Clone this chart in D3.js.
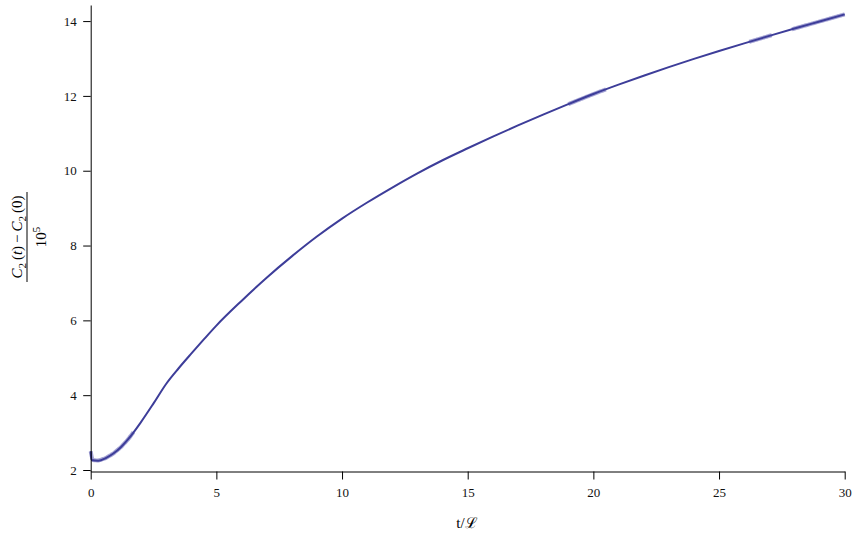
<!DOCTYPE html>
<html>
<head>
<meta charset="utf-8">
<script src="https://cdn.jsdelivr.net/npm/d3@7"></script>
<style>
  body { margin: 0; background: #fff; }
  svg { display: block; }
  .tick text { font-family: "Liberation Serif", "Times New Roman", serif; font-size: 13px; fill: #111; }
</style>
</head>
<body>
<div id="chart"></div>
<script>
// time in units of the Lipschitz time
const tValues = [0, 0.03, 0.3, 0.6, 0.9, 1.2, 1.5, 2.0, 2.5, 3.0, 3.5, 4.0, 4.5, 5, 6, 7, 8, 9, 10, 11, 12, 13, 14, 15, 16, 17, 18, 19, 20, 21, 22, 23, 24, 25, 26, 27, 28, 29, 30];
// (C2(t) - C2(0)) / 10^5
const cValues = [2.5, 2.27, 2.25, 2.32, 2.44, 2.61, 2.83, 3.28, 3.78, 4.30, 4.72, 5.11, 5.49, 5.86, 6.52, 7.14, 7.71, 8.24, 8.72, 9.15, 9.55, 9.93, 10.28, 10.60, 10.91, 11.21, 11.50, 11.78, 12.05, 12.30, 12.54, 12.77, 12.99, 13.20, 13.405, 13.605, 13.80, 13.99, 14.18];
// stretches where the curve is visibly noisy
const noisyRanges = [[0, 1.7], [19.0, 20.5], [26.2, 27.1], [27.9, 30]];
const xTicks = [0, 5, 10, 15, 20, 25, 30];
const yTicks = [2, 4, 6, 8, 10, 12, 14];

const width = 856;
const height = 537;

const svg = d3.select("#chart")
  .append("svg")
  .attr("width", width)
  .attr("height", height);

const x = d3.scaleLinear().domain([0, 30]).range([90.7, 844.7]);
const y = d3.scaleLinear().domain([1.96, 14.43]).range([471.5, 5]);

const points = tValues.map((t, i) => ({ t: t, c: cValues[i] }));

const line = d3.line()
  .x(d => x(d.t))
  .y(d => y(d.c))
  .curve(d3.curveMonotoneX);

// soft band for the noisy stretches
const interp = t => {
  const i = Math.max(1, d3.bisectLeft(tValues, t));
  const t0 = tValues[i - 1], t1 = tValues[i];
  const k = (t - t0) / (t1 - t0);
  return cValues[i - 1] + k * (cValues[i] - cValues[i - 1]);
};
noisyRanges.forEach(([a, b]) => {
  const seg = d3.range(a, b + 0.001, (b - a) / 20).map(t => ({ t: t, c: interp(t) }));
  svg.append("path")
    .datum(seg)
    .attr("fill", "none")
    .attr("stroke", "#5a58b0")
    .attr("stroke-opacity", 0.55)
    .attr("stroke-width", 4)
    .attr("d", line);
});

// curve
svg.append("path")
  .datum(points)
  .attr("fill", "none")
  .attr("stroke", "#3d3d99")
  .attr("stroke-width", 2)
  .attr("stroke-linejoin", "round")
  .attr("d", line);

// axes
svg.append("g")
  .attr("transform", "translate(0,471.5)")
  .call(d3.axisBottom(x).tickValues(xTicks).tickSize(8).tickSizeOuter(0).tickPadding(8).tickFormat(d3.format("d")));

svg.append("g")
  .attr("transform", "translate(90.7,0)")
  .call(d3.axisLeft(y).tickValues(yTicks).tickSize(7.5).tickSizeOuter(0).tickPadding(6.5).tickFormat(d3.format("d")));

svg.selectAll(".domain, .tick line").attr("stroke", "#000");

// x label
svg.append("text")
  .attr("x", 467)
  .attr("y", 528)
  .attr("text-anchor", "middle")
  .style("font-family", "\"Liberation Serif\", \"DejaVu Serif\", serif")
  .style("font-size", "15px")
  .text("t/\u2112");

// y label: rotated fraction
const ylab = svg.append("g")
  .attr("transform", "translate(27,237) rotate(-90)")
  .style("font-family", "\"Liberation Serif\", \"Times New Roman\", serif")
  .style("font-size", "15px");

const num = ylab.append("text")
  .attr("x", 0)
  .attr("y", -5)
  .attr("text-anchor", "middle");
num.append("tspan").style("font-style", "italic").text("C");
num.append("tspan").attr("dy", 4).style("font-size", "11px").text("2");
num.append("tspan").attr("dy", -4).text("\u2009(");
num.append("tspan").style("font-style", "italic").text("t");
num.append("tspan").text(")\u2009\u2212\u2009");
num.append("tspan").style("font-style", "italic").text("C");
num.append("tspan").attr("dy", 4).style("font-size", "11px").text("2");
num.append("tspan").attr("dy", -4).text("\u2009(0)");

ylab.append("line")
  .attr("x1", -45)
  .attr("x2", 45)
  .attr("y1", 0)
  .attr("y2", 0)
  .attr("stroke", "#000")
  .attr("stroke-width", 1);

const den = ylab.append("text")
  .attr("x", 0)
  .attr("y", 19)
  .attr("text-anchor", "middle");
den.append("tspan").text("10");
den.append("tspan").attr("dy", -6).style("font-size", "11px").text("5");
</script>
</body>
</html>
